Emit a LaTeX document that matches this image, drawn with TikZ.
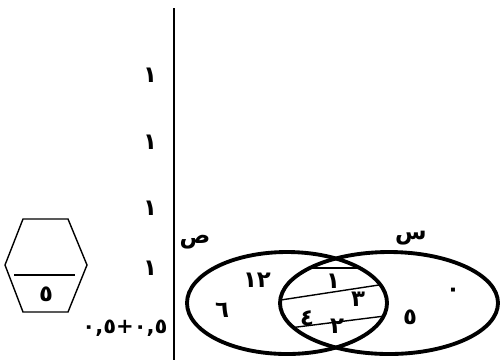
\documentclass[tikz,border=0pt]{standalone}
\usepackage{fontspec}
\newfontfamily\arabicfont[Script=Arabic]{DejaVu Sans}
\usetikzlibrary{positioning}

\begin{document}
\begin{tikzpicture}[
  x=0.02cm, y=-0.02cm,
  num/.style={font=\arabicfont\bfseries\fontsize{13}{15}\selectfont, inner sep=1pt},
  setlbl/.style={font=\arabicfont\bfseries\fontsize{13}{15}\selectfont, inner sep=1pt},
  ring/.style={draw, line width=2.2pt},
  chord/.style={draw, line width=0.8pt},
  hexline/.style={draw, line width=0.8pt, line join=miter},
]
\useasboundingbox (0,0) rectangle (503,360);
\draw[line width=1pt] (174,8) -- (174,360);
% column of ones
\foreach \y/\n in {75/a, 142/b, 208/c, 268/d} \node[num] (one\n) at (150,\y) {١};
\node[num, font=\arabicfont\bfseries\fontsize{12}{14}\selectfont] (half) at (125,328) {٠,٥+٠,٥};
% hexagon
\draw[hexline] (23,219) -- (68,219) -- (87,265) -- (68,312) -- (23,312) -- (5,265) -- cycle;
\draw[line width=1.6pt] (14,275) -- (75,275);
\node[num] (five) at (46,294) {٥};
% chords inside the lens
\begin{scope}
  \clip (287,303) ellipse [x radius=100, y radius=51];
  \clip (389,303) ellipse [x radius=109, y radius=51];
  \draw[chord] (250,268) -- (420,268);
  \draw[chord] (250,304.7) -- (420,278.7);
  \draw[chord] (250,332.9) -- (420,311.6);
\end{scope}
% the two sets
\draw[ring] (287,303) ellipse [x radius=100, y radius=51];
\draw[ring] (389,303) ellipse [x radius=109, y radius=51];
\node[setlbl] (labY) at (195,242) {ص};
\node[setlbl] (labX) at (411,238) {س};
% elements
\node[num] (e12) at (257,280) {١٢};
\node[num] (e6) at (222,310) {٦};
\node[num] (e1) at (333,281) {١};
\node[num] (e3) at (358,299) {٣};
\node[num] (e4) at (307,318) {٤};
\node[num] (e2) at (337,326) {٢};
\node[num] (e5) at (410,317) {٥};
\node[num] (e0) at (453,292) {٠};
\end{tikzpicture}
\end{document}
